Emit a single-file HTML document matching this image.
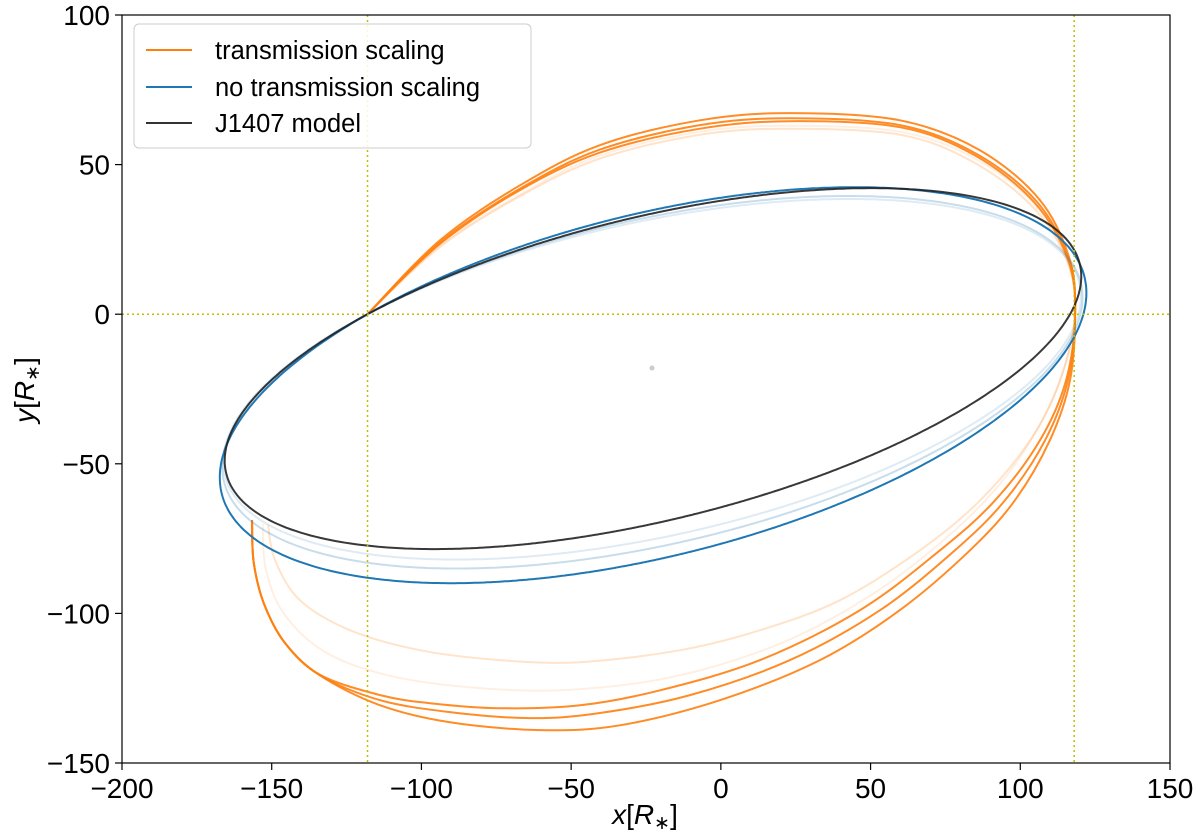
<!DOCTYPE html>
<html><head><meta charset="utf-8"><style>
body{margin:0;background:#fff;}
svg{display:block;font-family:"Liberation Sans","DejaVu Sans",sans-serif;}
</style></head><body>
<svg id="chart" width="1200" height="832">
<g id="plot"></g>
<text transform="translate(34,390) rotate(-90)" font-size="28" text-anchor="middle"><tspan font-style="italic">y</tspan>[<tspan font-style="italic">R</tspan><tspan font-size="19" dy="5">∗</tspan><tspan dy="-5">]</tspan></text>
<text x="645" y="824" font-size="28" text-anchor="middle"><tspan font-style="italic">x</tspan>[<tspan font-style="italic">R</tspan><tspan font-size="19" dy="5">∗</tspan><tspan dy="-5">]</tspan></text>
<g font-size="25.5">
<rect x="134" y="24" width="397" height="124" rx="5" fill="#fff" fill-opacity="0.85" stroke="#ccc"/>
<line x1="146" x2="192" y1="50" y2="50" stroke="#ff7f0e" stroke-width="2"/>
<text x="215" y="59">transmission scaling</text>
<line x1="146" x2="192" y1="87" y2="87" stroke="#1f77b4" stroke-width="2"/>
<text x="215" y="96">no transmission scaling</text>
<line x1="146" x2="192" y1="123" y2="123" stroke="#333" stroke-width="2"/>
<text x="215" y="132">J1407 model</text>
</g>
</svg>
<script>
const xTicks=[-200,-150,-100,-50,0,50,100,150];
const yTicks=[-150,-100,-50,0,50,100];
// closed orbits: five points on each ellipse [x, y] (R*)
const blackOrbit=[[-118,0],[120.3,11],[-165.6,-51],[46,42.1],[-96,-78.5]];
const blueOrbit=[[-118,0],[122,9],[-167.3,-53],[40,42.4],[-90,-89.9]];
const blueFaded1=[[-118,0],[120.5,9],[-166.5,-52],[40,39.5],[-90,-85]];
const blueFaded2=[[-118,0],[120,9],[-166,-52],[40,38.5],[-90,-82]];
// open orange tracks [x, y] (R*)
const orangeOuter=[[-156.6,-68.8],[-156,-83],[-152.5,-97],[-145.5,-110],[-133.9,-120.7],[-113.8,-130.7],[-90.5,-136.4],[-60.4,-139],[-33.7,-137.4],[-0.3,-129],[33.1,-115.6],[59.8,-98.9],[83.2,-78.9],[98.2,-62.2],[109.9,-42.1],[116.6,-22.1],[118.3,0],[116.6,18],[106.6,38.1],[86.5,54.8],[59.8,64.8],[23,67.2],[-7,64.8],[-40.4,56.5],[-67,43.1],[-93.8,24.7],[-118,0]];
const orangeMiddle=[[-156.6,-68.8],[-156,-83],[-152.5,-97],[-145.5,-110],[-133.9,-120.7],[-113.8,-129],[-90.5,-133],[-63.7,-135],[-40.4,-133.3],[-10.3,-127.3],[23.1,-115.6],[53.2,-98.9],[78.2,-78.9],[94.9,-62.2],[108.3,-42.1],[115.9,-22.1],[118.3,0],[116.3,18],[105.6,37.5],[85.5,53.5],[59.8,63.2],[23,65.5],[-7,63.2],[-40.4,55],[-67,42],[-93.8,24],[-118,0]];
const orangeInner=[[-156.6,-68.8],[-156,-83],[-152.5,-97],[-145.5,-110],[-133.9,-120.5],[-113.8,-127.3],[-97.1,-130],[-73.8,-131.7],[-47,-130.7],[-20.3,-125.7],[13.1,-115.6],[46.5,-98.9],[73.2,-78.9],[91.6,-62.2],[106.6,-42.1],[115.3,-22.1],[118.3,0],[116,18],[105,37],[85,53],[59.8,62.5],[23,64.5],[-7,62],[-40.4,54],[-67,41.5],[-93.8,23.5],[-118,0]];
const orangeFaded1=[[-151.2,-70.5],[-148.9,-82.2],[-140.6,-95.6],[-123.9,-105.6],[-100.5,-112.3],[-73.8,-115.6],[-47,-116.3],[-13.6,-112.3],[13.1,-105.6],[39.8,-95.6],[66.5,-78.9],[86.6,-62.2],[103.3,-42.1],[113.3,-22.1],[118.3,0],[115.5,18],[104,36],[84,51],[59.8,60],[23,62],[-7,60],[-40.4,52],[-67,39.5],[-93.8,22.5],[-118,0]];
const orangeFaded2=[[-153,-70],[-152,-85],[-146,-100],[-132,-113],[-110,-121],[-80,-125],[-50,-125.5],[-15,-121],[20,-110],[50,-94],[75,-75],[93,-57],[106,-38],[114,-20],[118.3,0],[115.8,18],[104.5,37],[85,52],[59.8,61],[23,63],[-7,61],[-40.4,53],[-67,40],[-93.8,23],[-118,0]];
const vLines=[-118,118],hLines=[0];
const centerPt=[-23,-18];

const L=122,R=1170,T=15,B=763;
const sx=v=>L+(v+200)/350*(R-L);
const sy=v=>B-(v+150)/250*(B-T);
const ns="http://www.w3.org/2000/svg";
const g=document.getElementById('plot');
function mk(t,a){const e=document.createElementNS(ns,t);for(const k in a)e.setAttribute(k,a[k]);g.appendChild(e);return e;}
function solve(M,b){const n=b.length;M=M.map((r,i)=>r.concat([b[i]]));
  for(let c=0;c<n;c++){let p=c;for(let r=c+1;r<n;r++)if(Math.abs(M[r][c])>Math.abs(M[p][c]))p=r;[M[c],M[p]]=[M[p],M[c]];
    for(let r=0;r<n;r++)if(r!==c){const f=M[r][c]/M[c][c];for(let k=c;k<=n;k++)M[r][k]-=f*M[c][k];}}
  return M.map((r,i)=>r[n]/r[i]);}
function conicPath(pts){
  const s=100;const P=pts.map(p=>[p[0]/s,p[1]/s]);
  const [A,Bc,C,D,E]=solve(P.map(p=>[p[0]*p[0],p[0]*p[1],p[1]*p[1],p[0],p[1]]),P.map(()=>1));
  const det=4*A*C-Bc*Bc;const cx=(Bc*E-2*C*D)/det,cy=(Bc*D-2*A*E)/det;
  const q=A*cx*cx+Bc*cx*cy+C*cy*cy+D*cx+E*cy;let d="";
  for(let i=0;i<=720;i++){const f=i/720*2*Math.PI,c=Math.cos(f),sn=Math.sin(f);
    const r=Math.sqrt((1-q)/(A*c*c+Bc*c*sn+C*sn*sn));
    d+=(i?"L":"M")+sx((cx+r*c)*s).toFixed(1)+","+sy((cy+r*sn)*s).toFixed(1);}
  return d+"Z";}
function smooth(pts){
  const P=pts.map(p=>[sx(p[0]),sy(p[1])]);const n=P.length;
  const get=i=>P[Math.max(0,Math.min(n-1,i))];
  let d="M"+P[0][0].toFixed(1)+","+P[0][1].toFixed(1);
  for(let i=0;i<n-1;i++){const p0=get(i-1),p1=get(i),p2=get(i+1),p3=get(i+2);
    const c1=[p1[0]+(p2[0]-p0[0])/6,p1[1]+(p2[1]-p0[1])/6];
    const c2=[p2[0]-(p3[0]-p1[0])/6,p2[1]-(p3[1]-p1[1])/6];
    d+="C"+c1[0].toFixed(1)+","+c1[1].toFixed(1)+" "+c2[0].toFixed(1)+","+c2[1].toFixed(1)+" "+p2[0].toFixed(1)+","+p2[1].toFixed(1);}
  return d;}
function track(d,col,op,name){
  const p=mk('path',{d:d,fill:'none',stroke:col,'stroke-width':2,'stroke-opacity':op,'stroke-linejoin':'round'});
  
  }
track(smooth(orangeFaded2),'#ff7f0e',0.12,'orange-orbit-faded');
track(smooth(orangeFaded1),'#ff7f0e',0.22,'orange-orbit-faded');
track(smooth(orangeInner),'#ff7f0e',0.9,'orange-orbit');
track(smooth(orangeMiddle),'#ff7f0e',0.9,'orange-orbit');
track(smooth(orangeOuter),'#ff7f0e',0.9,'orange-orbit');
track(conicPath(blueFaded2),'#1f77b4',0.15,'blue-orbit-faded');
track(conicPath(blueFaded1),'#1f77b4',0.25,'blue-orbit-faded');
track(conicPath(blueOrbit),'#1f77b4',1,'blue-orbit');
track(conicPath(blackOrbit),'#222',0.9,'j1407-orbit');
vLines.forEach(v=>{const l=mk('line',{x1:sx(v),x2:sx(v),y1:T,y2:B,stroke:'#bfbf00','stroke-width':1.5,'stroke-dasharray':'2,3'});

});
hLines.forEach(v=>{const l=mk('line',{x1:L,x2:R,y1:sy(v),y2:sy(v),stroke:'#bfbf00','stroke-width':1.5,'stroke-dasharray':'2,3'});

});
const c=mk('circle',{cx:sx(centerPt[0]),cy:sy(centerPt[1]),r:2.5,fill:'#ccc'});


const fr=mk('rect',{x:L,y:T,width:R-L,height:B-T,fill:'none',stroke:'#000','stroke-width':1.2});


xTicks.forEach(v=>{mk('line',{x1:sx(v),x2:sx(v),y1:B,y2:B+7,stroke:'#000','stroke-width':1.2});
const t=mk('text',{x:sx(v),y:B+35,'text-anchor':'middle','font-size':28});t.textContent=(v<0?'\u2212'+(-v):v);

});
yTicks.forEach(v=>{mk('line',{x1:L-7,x2:L,y1:sy(v),y2:sy(v),stroke:'#000','stroke-width':1.2});
const t=mk('text',{x:L-12,y:sy(v)+10,'text-anchor':'end','font-size':28});t.textContent=(v<0?'\u2212'+(-v):v);

});
</script>
</body></html>
